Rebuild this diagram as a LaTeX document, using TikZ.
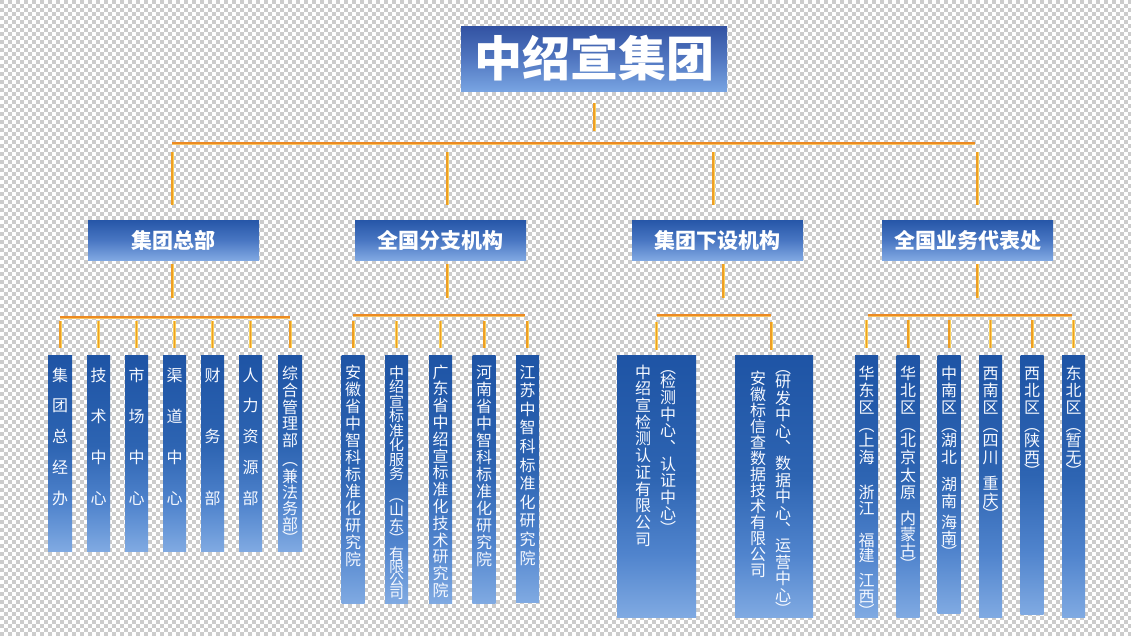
\documentclass[tikz,border=0pt]{standalone}
\usepackage{fontspec}
\newfontfamily\cjk{Noto Sans CJK SC}
\definecolor{chkgray}{RGB}{204,204,204}
\definecolor{Ltop}{RGB}{30,84,165}
\definecolor{Lmid}{RGB}{45,100,178}
\definecolor{Lq}{RGB}{80,132,205}
\definecolor{Lbot}{RGB}{128,170,226}
\definecolor{Ttop}{RGB}{50,82,162}
\definecolor{Tmid}{RGB}{80,118,192}
\definecolor{Tbot}{RGB}{120,164,226}
\definecolor{Mtop}{RGB}{38,86,168}
\definecolor{Mmid}{RGB}{72,118,194}
\definecolor{Mbot}{RGB}{128,168,226}
\definecolor{hlin}{RGB}{236,138,34}
\definecolor{hlout}{RGB}{247,196,100}
\definecolor{vlin}{RGB}{238,158,36}
\definecolor{vlout}{RGB}{250,208,90}
\definecolor{txtc}{RGB}{246,249,255}
\pgfdeclareverticalshading{lthree}{100bp}{color(0bp)=(Lbot); color(25bp)=(Lbot); color(37bp)=(Lq); color(52bp)=(Lmid); color(75bp)=(Ltop); color(100bp)=(Ltop)}
\newcommand\vcolu[5]{%
  \foreach \ch [count=\i from 0] in {#5}{%
    \node[vch] (#1-\i) at (#2,{#3+\i*#4+6.1}) {\ch};
  }}
\newcommand\vcolp[3]{%
  \foreach \ch/\yy [count=\i] in {#3}{%
    \node[vch] (#1-\i) at (#2,\yy+6.1) {\ch};
  }}
\begin{document}
\begin{tikzpicture}[x=1pt,y=-1pt,
  vch/.style={font=\cjk\fontsize{16}{16}\selectfont, text=txtc, inner sep=0pt, anchor=base},
  vchs/.style={font=\cjk\fontsize{15}{15}\selectfont},
  l3box/.style={shade, shading=lthree, inner sep=0pt, anchor=north, minimum width=23pt},
  l2box/.style={top color=Mtop, bottom color=Mbot, middle color=Mmid, minimum width=171pt, minimum height=40pt, inner sep=0pt, font=\cjk\bfseries\fontsize{21}{21}\selectfont, text=white},
  titlebox/.style={top color=Ttop, bottom color=Tbot, middle color=Tmid, minimum width=266pt, minimum height=65pt, inner sep=0pt, font=\cjk\bfseries\fontsize{48}{48}\selectfont, text=white},
  hl/.style={draw=hlin, line width=1.8pt, preaction={draw=hlout, line width=3pt}},
  vl/.style={draw=vlin, line width=1.4pt, preaction={draw=vlout, line width=3pt}},
  chk/.style={draw=chkgray, line width=4pt, dash pattern=on 4pt off 4pt}
]
\useasboundingbox (0,0) rectangle (1131,635);
\fill[white] (0,0) rectangle (1131,635);
\foreach \r in {0,2,...,158} \draw[chk] (0,\r*4+2) -- (1135,\r*4+2);
\foreach \r in {1,3,...,157} \draw[chk] (4,\r*4+2) -- (1135,\r*4+2);

% title and level 2
\node[titlebox] (title) at (594,58.5) {中绍宣集团};
\node[l2box] (l2a) at (173.5,240) {集团总部};
\node[l2box] (l2b) at (440.5,240) {全国分支机构};
\node[l2box] (l2c) at (717.5,240) {集团下设机构};
\node[l2box] (l2d) at (967.5,240) {全国业务代表处};

% level 3 boxes
\node[l3box, minimum width=24pt, minimum height=196pt] (a1) at (60,355) {};
\node[l3box, minimum width=23pt, minimum height=196pt] (a2) at (98.5,355) {};
\node[l3box, minimum width=23pt, minimum height=196pt] (a3) at (136.5,355) {};
\node[l3box, minimum width=23pt, minimum height=196pt] (a4) at (174.5,355) {};
\node[l3box, minimum width=23pt, minimum height=196pt] (a5) at (212.5,355) {};
\node[l3box, minimum width=23pt, minimum height=196pt] (a6) at (250.5,355) {};
\node[l3box, minimum width=24pt, minimum height=196pt] (a7) at (290,355) {};

\node[l3box, minimum height=248pt] (b1) at (353,355) {};
\node[l3box, minimum height=248pt] (b2) at (396.5,355) {};
\node[l3box, minimum height=248pt] (b3) at (440.5,355) {};
\node[l3box, minimum height=248pt] (b4) at (484,355) {};
\node[l3box, minimum height=247pt] (b5) at (527.5,355) {};

\node[l3box, minimum width=79pt, minimum height=262pt] (c1) at (656.5,355) {};
\node[l3box, minimum width=78pt, minimum height=262pt] (c2) at (774,355) {};

\node[l3box, minimum height=262pt] (d1) at (866.5,355) {};
\node[l3box, minimum height=262pt] (d2) at (908,355) {};
\node[l3box, minimum height=258pt] (d3) at (949,355) {};
\node[l3box, minimum height=262pt] (d4) at (990.5,355) {};
\node[l3box, minimum height=259pt] (d5) at (1032,355) {};
\node[l3box, minimum height=262pt] (d6) at (1073.5,355) {};

% connectors
\coordinate (busL) at (172,143);
\coordinate (busR) at (975,143);
\coordinate (sbA) at (62,317);
\coordinate (sbB) at (353,315);
\coordinate (sbC) at (656,315);
\coordinate (sbD) at (868,315);
\coordinate (aT) at ([xshift=-1.5pt]l2a.north);
\coordinate (bT) at ([xshift=6.5pt]l2b.north);
\coordinate (cT) at ([xshift=-4.5pt]l2c.north);
\coordinate (dT) at ([xshift=9.5pt]l2d.north);
\coordinate (aB) at ([xshift=-1.5pt]l2a.south);
\coordinate (bB) at ([xshift=6.5pt]l2b.south);
\coordinate (cB) at ([xshift=5.5pt]l2c.south);
\coordinate (dB) at ([xshift=9.5pt]l2d.south);
\coordinate (c2T) at ([xshift=-3pt]c2.north);
\coordinate (b5T) at ([xshift=-0.5pt]b5.north);

\draw[hl] (busL) -- (busR);
\draw[vl, shorten <=12pt, shorten >=12pt] (title.south) -- (title.south |- busL);
\foreach \t in {aT,bT,cT,dT}
  \draw[vl, shorten <=9pt, shorten >=15pt] (\t |- busL) -- (\t);
\draw[vl, shorten <=4pt, shorten >=19pt] (aB) -- (aB |- sbA);
\draw[vl, shorten <=4pt, shorten >=17pt] (bB) -- (bB |- sbB);
\draw[vl, shorten <=4pt, shorten >=17pt] (cB) -- (cB |- sbC);
\draw[vl, shorten <=4pt, shorten >=17pt] (dB) -- (dB |- sbD);

\draw[hl] (a1.north |- sbA) -- (a7.north |- sbA);
\draw[hl] (b1.north |- sbB) -- ([xshift=-3pt]b5.north |- sbB);
\draw[hl] (c1.north |- sbC) -- (c2T |- sbC);
\draw[hl] ([xshift=1.5pt]d1.north |- sbD) -- ([xshift=-1.5pt]d6.north |- sbD);
\foreach \n in {a1,a2,a3,a4,a5,a6,a7}
  \draw[vl, shorten <=4pt, shorten >=7pt] (\n.north |- sbA) -- (\n.north);
\foreach \n in {b1,b2,b3,b4,b5T}
  \draw[vl, shorten <=6pt, shorten >=7pt] (\n |- sbB) -- (\n |- b1.north);
\draw[vl, shorten <=7pt, shorten >=5pt] (c1.north |- sbC) -- (c1.north);
\draw[vl, shorten <=7pt, shorten >=5pt] (c2T |- sbC) -- (c2T);
\foreach \n in {d1,d2,d3,d4,d5,d6}
  \draw[vl, shorten <=5pt, shorten >=7pt] (\n.north |- sbD) -- (\n.north);

% texts in level 3
\vcolu{a1t}{60}{375}{30.75}{集,团,总,经,办}
\vcolu{a2t}{98.5}{375}{41}{技,术,中,心}
\vcolu{a3t}{136.5}{375}{41}{市,场,中,心}
\vcolu{a4t}{174.5}{375}{41}{渠,道,中,心}
\vcolu{a5t}{212.5}{375}{61.5}{财,务,部}
\vcolu{a6t}{250.5}{375}{30.75}{人,力,资,源,部}
\vcolp{a7t}{290}{综/373,合/390,管/407,理/423,部/440,︵/459,兼/476,法/492,务/508,部/524,︶/538}
\vcolu{b1t}{353}{372}{17}{安,徽,省,中,智,科,标,准,化,研,究,院}
\begin{scope}[vch/.append style={vchs}]
\vcolp{b2t}{396.5}{中/372,绍/386.5,宣/401,标/415.5,准/430,化/444.5,服/459,务/473.5,︵/495,山/509,东/525,︶/538,有/553.5,限/566.5,公/579.5,司/592.5}
\end{scope}
\vcolu{b3t}{440.5}{372}{16.8}{广,东,省,中,绍,宣,标,准,化,技,术,研,究,院}
\vcolu{b4t}{484}{372}{17}{河,南,省,中,智,科,标,准,化,研,究,院}
\vcolu{b5t}{527.5}{372}{18.6}{江,苏,中,智,科,标,准,化,研,究,院}
\vcolu{c1l}{643}{372}{16.7}{中,绍,宣,检,测,认,证,有,限,公,司}
\vcolp{c1r}{668}{︵/367,检/381,测/397.6,中/414.2,心/430.8,︑/447.4,认/464,证/480.6,中/497.2,心/513.8,︶/528}
\vcolu{c2l}{758}{378}{16}{安,徽,标,信,查,数,据,技,术,有,限,公,司}
\vcolp{c2r}{783}{︵/367.5,研/381.7,发/398.1,中/414.5,心/430.9,︑/447.3,数/463.7,据/480.1,中/496.5,心/512.9,︑/529.3,运/545.7,营/562.1,中/578.5,心/594.9,︶/609}
\vcolp{d1t}{866.5}{华/373,东/390,区/407,︵/425.5,上/440,海/457,浙/492,江/508,福/540,建/555.5,江/580.5,西/596.5,︶/611}
\vcolp{d2t}{908}{华/373,北/390,区/407,︵/425.5,北/440,京/457,太/475,原/492,内/518,蒙/534,古/550,︶/564}
\vcolp{d3t}{949}{中/373,南/390,区/407,︵/425.5,湖/440,北/457,湖/484,南/501,海/522,南/538,︶/552}
\vcolp{d4t}{990.5}{西/373,南/390,区/407,︵/425.5,四/440,川/457,重/483,庆/500,︶/514}
\vcolp{d5t}{1032}{西/373,北/390,区/407,︵/425.5,陕/440,西/457,︶/471}
\vcolp{d6t}{1073.5}{东/373,北/390,区/407,︵/425.5,暂/440,无/457,︶/471}
\end{tikzpicture}
\end{document}
